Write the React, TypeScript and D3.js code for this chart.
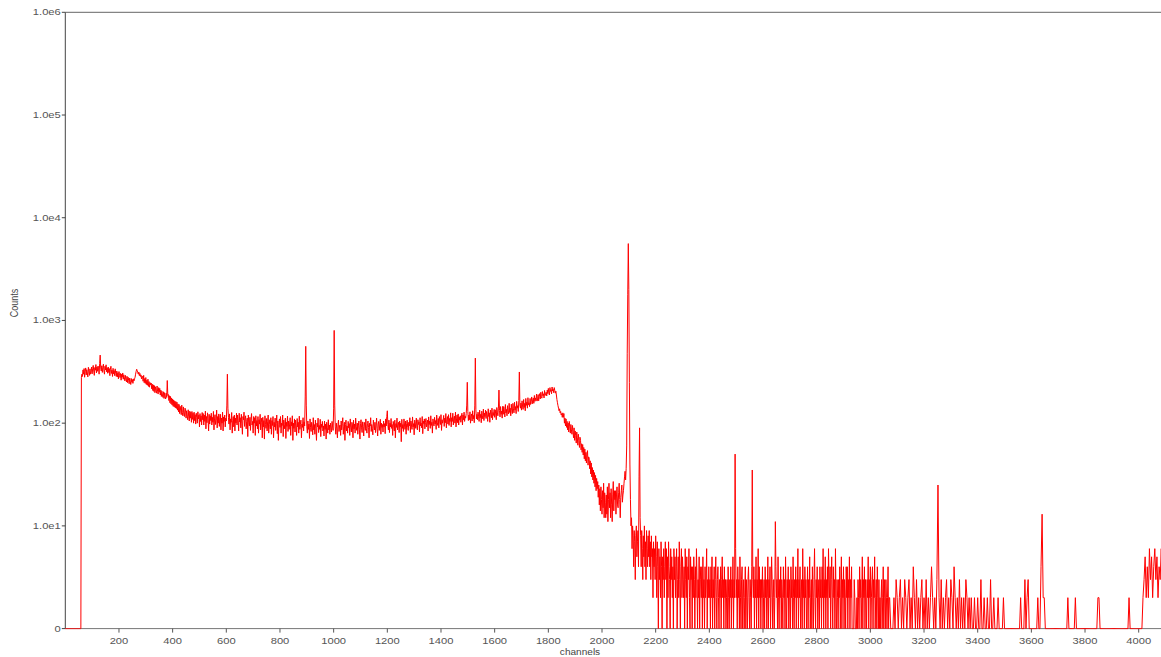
import React from "react";
import * as d3 from "d3";

// Spectrum counts. Each array covers 1024 channels starting at segmentStart,
// one value every segmentStep channels.
const segmentStart = [0, 1024, 2048, 3072];
const segmentStep = [2, 2, 2, 4];

const counts0 = [
  0,0,0,0,0,0,0,0,0,0,0,0,0,0,0,0,
  0,0,0,0,0,0,0,0,0,0,0,0,0,0,280,300,
  285,330,300,340,280,320,345,295,332,308,282,350,318,292,338,300,
  315,352,302,340,365,322,292,348,328,372,308,352,320,360,338,300,
  380,460,345,322,362,312,350,375,322,300,358,330,370,316,346,306,
  352,312,340,290,335,358,305,328,285,342,302,325,290,338,305,285,
  322,282,310,270,318,292,278,305,262,300,280,308,268,296,276,258,
  292,266,252,286,248,280,262,242,275,256,238,272,250,266,244,270,
  258,270,280,300,320,335,325,310,300,315,290,305,285,295,270,288,
  282,256,292,248,272,244,278,238,262,234,268,228,254,224,248,236,
  246,216,240,208,236,204,232,198,226,208,196,230,202,192,222,200,
  218,188,210,182,205,188,178,202,174,198,182,172,196,178,260,186,
  190,166,185,158,182,154,176,150,172,146,168,144,164,141,162,139,
  160,134,154,129,152,124,146,134,121,150,127,118,144,122,116,140,
  137,112,132,117,108,135,115,105,131,112,128,102,130,109,125,100,
  128,106,121,98,125,114,100,129,110,120,92,124,104,118,96,127,
  108,124,96,120,104,131,88,116,101,126,112,84,122,98,118,106,
  125,96,114,102,130,86,110,121,97,106,134,90,116,100,123,93,
  113,122,86,112,100,128,84,115,104,120,92,112,105,150,300,140,
  114,98,123,86,110,102,127,80,106,116,92,120,84,112,100,125,
  96,120,106,84,125,103,113,90,122,100,78,116,108,128,93,110,
  118,88,104,112,74,120,101,94,114,85,108,124,96,104,80,116,
  100,113,76,118,94,106,88,116,80,108,98,122,86,102,112,72,
  114,92,106,70,118,97,89,111,84,103,120,80,97,108,88,113,
  78,106,95,116,72,102,92,112,85,99,120,79,105,68,97,110,
  91,116,80,100,95,120,74,107,88,97,112,71,102,93,117,83,
  105,87,98,113,76,103,94,118,68,100,89,110,82,107,95,76,
  111,92,102,80,117,87,97,107,72,98,91,113,84,103,94,180,
  560,150,92,80,105,87,98,71,110,91,83,102,94,77,113,86,
  97,78,107,89,68,100,92,112,81,95,87,109,74,98,91,104,
  84,94,75,105,87,98,70,102,91,80,108,86,96,78,100,90,
  82,104,94,85,140,800,150,92,78,100,88,72,97,107,83,94,
];

const counts1 = [
  96,76,105,86,99,113,78,93,102,68,97,107,84,94,80,104,
  90,99,76,110,91,82,102,96,72,107,88,98,80,112,93,85,
  100,78,94,105,86,70,99,108,90,81,103,93,75,102,96,85,
  110,88,80,99,105,91,72,100,94,113,83,97,89,77,107,96,
  86,102,81,94,112,89,75,98,104,85,96,109,78,100,91,97,
  82,105,92,99,79,110,94,116,132,97,86,107,81,100,92,111,
  89,97,76,104,94,84,107,72,99,91,112,86,96,102,81,105,
  92,100,66,109,89,97,83,110,96,87,105,78,99,107,91,85,
  102,94,113,81,105,96,87,115,92,99,77,107,100,89,112,94,
  86,108,97,103,82,113,94,100,90,116,79,105,99,110,88,102,
  111,92,100,107,84,115,97,105,89,118,95,102,80,110,100,94,
  114,98,106,87,120,102,95,111,90,116,105,97,121,85,108,100,
  106,119,93,112,101,124,90,109,116,98,121,95,111,104,126,92,
  113,104,125,96,112,117,100,128,92,110,120,101,123,96,115,107,
  118,102,115,125,96,120,108,128,104,117,112,124,150,250,130,106,
  120,108,129,100,116,123,105,132,110,119,101,150,430,135,110,122,
  108,128,117,104,134,113,122,101,131,118,110,137,106,125,116,134,
  111,130,121,104,138,116,126,102,134,122,113,140,108,127,119,136,
  114,135,123,108,142,128,118,140,210,133,115,145,122,131,112,146,
  122,145,131,115,152,126,136,118,148,132,123,156,127,140,118,153,
  133,124,156,138,126,160,134,145,124,163,140,148,130,166,315,150,
  140,157,134,165,147,136,170,142,156,132,174,149,160,140,177,151,
  158,145,174,152,163,180,154,168,176,156,186,163,176,166,192,164,
  172,190,165,182,194,172,200,182,175,203,185,193,176,208,186,194,
  200,184,210,194,218,198,188,222,204,212,193,225,206,214,198,222,
  208,196,205,188,170,158,148,140,132,138,126,130,120,124,114,126,
  114,124,100,112,94,110,91,104,86,100,82,104,92,80,97,86,
  78,95,83,72,90,68,84,76,64,82,72,61,78,68,58,73,
  68,55,63,52,62,49,58,45,56,43,52,41,50,54,39,47,
  46,36,43,32,41,30,37,28,35,26,33,24,31,22,29,23,
  27,19,25,16,23,14,24,18,13,22,15,26,12,21,17,12,
  20,13,24,11,18,26,15,21,12,23,16,11,20,27,14,22,
];

const counts2 = [
  18,22,13,20,24,16,15,21,26,18,12,19,22,25,17,20,
  22,26,30,34,28,36,60,480,1800,5600,2000,250,40,18,10,12,
  6,10,8,4,9,7,3,8,10,5,7,9,4,30,90,12,
  8,4,9,6,3,8,5,10,4,7,3,9,6,4,8,5,
  9,4,7,3,8,5,6,2,7,4,6,3,8,5,2,7,
  4,1,6,3,5,2,7,4,1,5,3,6,2,4,7,3,
  6,1,5,2,7,4,3,1,6,3,5,2,4,1,6,3,
  5,2,4,6,1,3,5,2,7,3,1,4,6,2,5,3,
  2,4,1,6,3,2,5,1,4,3,6,2,1,5,3,4,
  1,4,2,5,3,1,4,2,6,3,1,3,2,5,1,4,
  3,2,4,1,5,2,3,1,4,2,3,6,1,3,2,4,
  2,3,1,4,2,5,1,3,2,4,1,3,5,2,1,3,
  4,2,1,3,2,4,1,3,5,2,3,1,4,2,3,1,
  2,3,1,4,2,1,3,2,4,1,3,2,5,1,3,2,
  50,6,2,3,1,4,2,3,1,5,2,1,3,4,1,2,
  3,1,2,4,1,3,2,1,3,4,2,1,3,2,1,4,
  35,3,2,4,1,3,2,5,1,3,2,6,1,4,2,3,
  1,3,2,4,1,2,3,1,4,2,3,1,2,5,1,3,
  2,4,1,2,5,3,1,2,3,1,2,11,4,2,3,1,
  5,2,1,3,2,4,1,3,2,1,4,2,3,1,5,2,
  1,3,2,4,1,3,2,1,4,2,3,1,5,2,1,3,
  2,4,1,3,2,6,1,3,2,4,1,2,3,1,6,2,
  3,1,4,2,3,1,2,4,1,3,2,5,1,2,3,1,
  4,2,1,3,6,2,1,3,2,4,1,2,3,1,4,2,
  3,1,4,2,6,1,3,2,5,1,3,2,4,1,6,3,
  2,4,1,3,5,2,1,4,2,3,1,6,2,1,3,2,
  1,3,2,4,1,2,5,1,3,2,4,1,3,2,1,4,
  2,4,1,3,2,5,1,3,2,4,1,1,1,1,3,2,
  1,1,1,2,1,3,2,1,4,2,3,1,2,5,1,3,
  2,4,1,3,2,1,3,2,5,1,3,2,4,1,2,3,
  4,1,3,2,5,1,2,3,1,4,2,1,3,1,2,1,
  2,3,1,2,4,1,3,2,1,3,2,1,2,4,1,2,
];

const counts3 = [
  2,1,1,1,2,1,3,2,1,2,3,1,2,1,3,2,
  1,2,3,1,2,1,4,2,1,3,1,2,1,2,3,1,
  2,1,3,1,2,1,2,4,2,1,2,1,3,25,2,1,
  3,1,2,1,2,3,1,2,1,3,2,1,4,2,1,2,
  1,3,1,2,1,2,1,3,2,1,2,1,2,1,1,2,
  1,1,2,1,1,3,1,1,2,1,1,2,1,1,3,1,
  1,2,1,1,1,2,1,1,1,1,2,1,1,1,1,1,
  1,1,1,1,1,1,1,1,1,1,2,1,1,1,3,1,
  2,3,1,1,1,1,1,1,1,1,2,1,1,4,13,2,
  2,1,1,1,1,1,1,1,1,1,1,1,1,1,1,1,
  1,1,1,1,1,1,2,1,1,1,1,1,1,2,1,1,
  1,1,1,1,1,1,1,1,1,1,1,1,1,1,1,1,
  1,1,2,2,1,1,1,1,1,1,1,1,1,1,1,1,
  1,1,1,1,1,1,1,1,1,1,1,1,1,1,1,2,
  1,1,1,1,1,1,1,1,1,1,1,1,2,3,5,2,
  4,2,6,3,5,2,4,6,3,5,2,4,3,6,2,5,
];

const xTicks = [200,400,600,800,1000,1200,1400,1600,1800,2000,2200,2400,2600,2800,3000,3200,3400,3600,3800,4000];
const yTicks = [1, 10, 100, 1000, 10000, 100000, 1000000];
const yTickLabels = ["0", "1.0e1", "1.0e2", "1.0e3", "1.0e4", "1.0e5", "1.0e6"];

const W = 1161;
const H = 657;
const left = 65.3;
const top = 12.3;
const bottom = 628.6;
const pxPerChannel = 0.26835;
const FONT = "'Liberation Sans', Arial, sans-serif";
const STRETCH = 1.3;

export default function App() {
  const points = [counts0, counts1, counts2, counts3].flatMap((arr, k) =>
    arr.map((v, i) => ({ ch: segmentStart[k] + i * segmentStep[k], v }))
  );
  const x = d3.scaleLinear().domain([0, 4096]).range([left, left + 4096 * pxPerChannel]);
  const y = d3.scaleLog().domain([1, 1e6]).range([bottom, top]);
  const line = d3
    .line<{ ch: number; v: number }>()
    .x((d) => x(d.ch))
    .y((d) => y(Math.max(1, d.v)));

  return (
    <svg
      width={W}
      height={H}
      style={{ position: "absolute", left: 0, top: 0, background: "#fff" }}
    >
      <line x1={left} x2={W} y1={top} y2={top} stroke="#666" strokeWidth={1} />
      <line x1={left} x2={W} y1={bottom} y2={bottom} stroke="#777" strokeWidth={1} />
      <line x1={left} x2={left} y1={top} y2={bottom} stroke="#444" strokeWidth={1} />

      {yTicks.map((t, i) => (
        <g key={"y" + t}>
          <line x1={left - 3.5} x2={left} y1={y(t)} y2={y(t)} stroke="#444" />
          <g transform={`translate(${left - 4.5},${y(t) + 3}) scale(${STRETCH},1)`}>
            <text textAnchor="end" fontFamily={FONT} fontSize={8.6} fill="#555">
              {yTickLabels[i]}
            </text>
          </g>
        </g>
      ))}

      {xTicks.map((t) => (
        <g key={"x" + t}>
          <line x1={x(t)} x2={x(t)} y1={bottom} y2={bottom + 4} stroke="#555" />
          <g transform={`translate(${x(t)},${bottom + 15}) scale(${STRETCH},1)`}>
            <text textAnchor="middle" fontFamily={FONT} fontSize={8.6} fill="#555">
              {t}
            </text>
          </g>
        </g>
      ))}

      <g transform={`translate(${580},${654.5}) scale(1.12,1)`}>
        <text textAnchor="middle" fontFamily={FONT} fontSize={9} fill="#444">
          channels
        </text>
      </g>
      <g transform={`translate(${17.5},${303}) scale(${STRETCH},1) rotate(-90)`}>
        <text textAnchor="middle" fontFamily={FONT} fontSize={9} fill="#444">
          Counts
        </text>
      </g>

      <path d={line(points) || ""} fill="none" stroke="#ff0000" strokeWidth={1} />
    </svg>
  );
}
